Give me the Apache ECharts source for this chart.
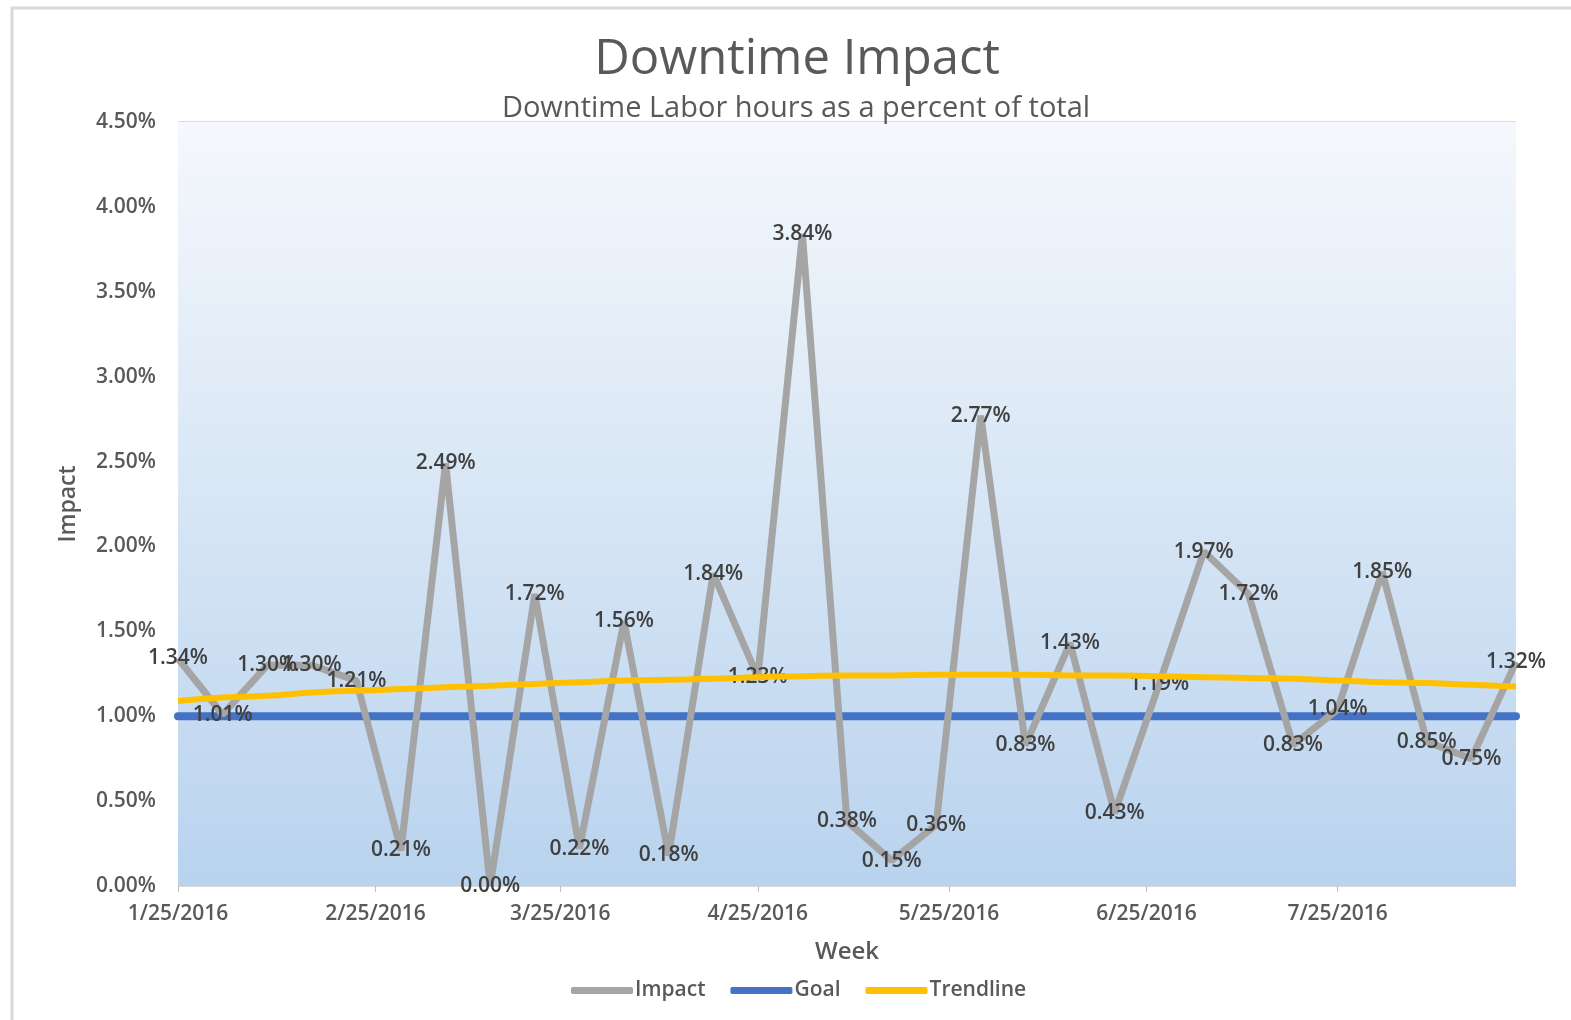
<!DOCTYPE html>
<html>
<head>
<meta charset="utf-8">
<script src="https://cdn.jsdelivr.net/npm/echarts@6/dist/echarts.min.js"></script>
<style>
html,body{margin:0;padding:0;background:#fff;}
#chart{width:1571px;height:1020px;}
</style>
</head>
<body>
<div id="chart"></div>
<script>
const weeks = ['2016-01-25','2016-02-01','2016-02-08','2016-02-15','2016-02-22','2016-02-29','2016-03-07','2016-03-14','2016-03-21','2016-03-28','2016-04-04','2016-04-11','2016-04-18','2016-04-25','2016-05-02','2016-05-09','2016-05-16','2016-05-23','2016-05-30','2016-06-06','2016-06-13','2016-06-20','2016-06-27','2016-07-04','2016-07-11','2016-07-18','2016-07-25','2016-08-01','2016-08-08','2016-08-15','2016-08-22'];
const impact = [1.34,1.01,1.30,1.30,1.21,0.21,2.49,0.00,1.72,0.22,1.56,0.18,1.84,1.23,3.84,0.38,0.15,0.36,2.77,0.83,1.43,0.43,1.19,1.97,1.72,0.83,1.04,1.85,0.85,0.75,1.32];
const goal = [1.00,1.00,1.00,1.00,1.00,1.00,1.00,1.00,1.00,1.00,1.00,1.00,1.00,1.00,1.00,1.00,1.00,1.00,1.00,1.00,1.00,1.00,1.00,1.00,1.00,1.00,1.00,1.00,1.00,1.00,1.00];
const trend = [1.09,1.11,1.12,1.14,1.15,1.16,1.17,1.18,1.19,1.20,1.21,1.215,1.22,1.23,1.235,1.24,1.24,1.245,1.245,1.245,1.24,1.24,1.235,1.23,1.225,1.22,1.21,1.20,1.195,1.185,1.175];
const xTicks = ['2016-01-25','2016-02-25','2016-03-25','2016-04-25','2016-05-25','2016-06-25','2016-07-25'];
const yMin = 0, yMax = 4.5, yStep = 0.5;

const DAY = 86400000;
function ts(s){ const p = s.split('-'); return Date.UTC(+p[0], +p[1]-1, +p[2]); }
const base = ts(weeks[0]);
function dayOf(s){ return Math.round((ts(s)-base)/DAY); }
function fmtDate(v){ const d = new Date(base + v*DAY); return (d.getUTCMonth()+1)+'/'+d.getUTCDate()+'/'+d.getUTCFullYear(); }
function pair(arr){ return weeks.map((w,i)=>[dayOf(w), arr[i]]); }
const tickDays = xTicks.map(dayOf);

const FONT = '"Open Sans", "Noto Sans", sans-serif';
const chart = echarts.init(document.getElementById('chart'));
chart.setOption({
  animation:false,
  backgroundColor:'#ffffff',
  graphic:[{type:'rect', shape:{x:12,y:8,width:1700,height:1200}, style:{fill:'none', stroke:'#d9d9d9', lineWidth:3}, z:-10}],
  title:[
    {text:'Downtime Impact', left:792, textAlign:'center', top:31, textStyle:{fontFamily:FONT, fontSize:49, fontWeight:'normal', color:'#595959'}},
    {text:'Downtime Labor hours as a percent of total', left:791, textAlign:'center', top:89, textStyle:{fontFamily:FONT, fontSize:29, fontWeight:500, color:'#595959'}}
  ],
  legend:{
    bottom:14, left:566, itemWidth:62, itemHeight:7, itemGap:25, icon:'roundRect',
    textStyle:{fontFamily:FONT, fontSize:21, fontWeight:600, color:'#595959', padding:[0,0,0,-3]},
    data:['Impact','Goal','Trendline']
  },
  grid:{left:178, right:55, top:122, bottom:134},
  xAxis:{
    type:'value', min:0, max:dayOf(weeks[weeks.length-1]),
    name:'Week', nameLocation:'middle', nameGap:54,
    nameTextStyle:{fontFamily:FONT, fontSize:24, fontWeight:600, color:'#595959'},
    axisLine:{show:true, lineStyle:{color:'#d9d9d9', width:1}},
    axisTick:{show:true, length:6, lineStyle:{color:'#bfbfbf'}, customValues:tickDays},
    axisLabel:{fontFamily:FONT, fontSize:21, fontWeight:600, color:'#595959', margin:18, customValues:tickDays, formatter:fmtDate},
    splitLine:{show:false}
  },
  yAxis:{
    type:'value', min:yMin, max:yMax, interval:yStep,
    name:'Impact', nameLocation:'middle', nameGap:98,
    nameTextStyle:{fontFamily:FONT, fontSize:23, fontWeight:600, color:'#595959'},
    axisLine:{show:false}, axisTick:{show:false},
    axisLabel:{fontFamily:FONT, fontSize:21, fontWeight:600, color:'#595959', margin:22, formatter:v=>v.toFixed(2)+'%'},
    splitLine:{show:true, lineStyle:{color:'#e3dccb', width:2}},
    splitArea:{show:false}
  },
  series:[
    {name:'Impact', type:'line', data:pair(impact), showSymbol:true, symbol:'circle', symbolSize:1,
     itemStyle:{color:'#a5a5a5'}, lineStyle:{color:'#a5a5a5', width:7}, z:3,
     label:{show:true, position:'inside', fontFamily:FONT, fontSize:21, fontWeight:600, color:'#404040', formatter:p=>p.value[1].toFixed(2)+'%'}},
    {name:'Goal', type:'line', data:pair(goal), showSymbol:false, itemStyle:{color:'#4472c4'}, lineStyle:{color:'#4472c4', width:8, cap:'round'}, z:2},
    {name:'Trendline', type:'line', data:pair(trend), smooth:true, showSymbol:false, itemStyle:{color:'#ffc000'}, lineStyle:{color:'#ffc000', width:6}, z:4},
    {type:'line', data:[], markArea:{silent:true, itemStyle:{color:{type:'linear',x:0,y:0,x2:0,y2:1,colorStops:[{offset:0,color:'#f5f8fc'},{offset:1,color:'#b9d3ee'}]}},
      data:[[{x:178, y:122},{x:1516, y:886}]]}, z:0}
  ]
});
</script>
</body>
</html>
